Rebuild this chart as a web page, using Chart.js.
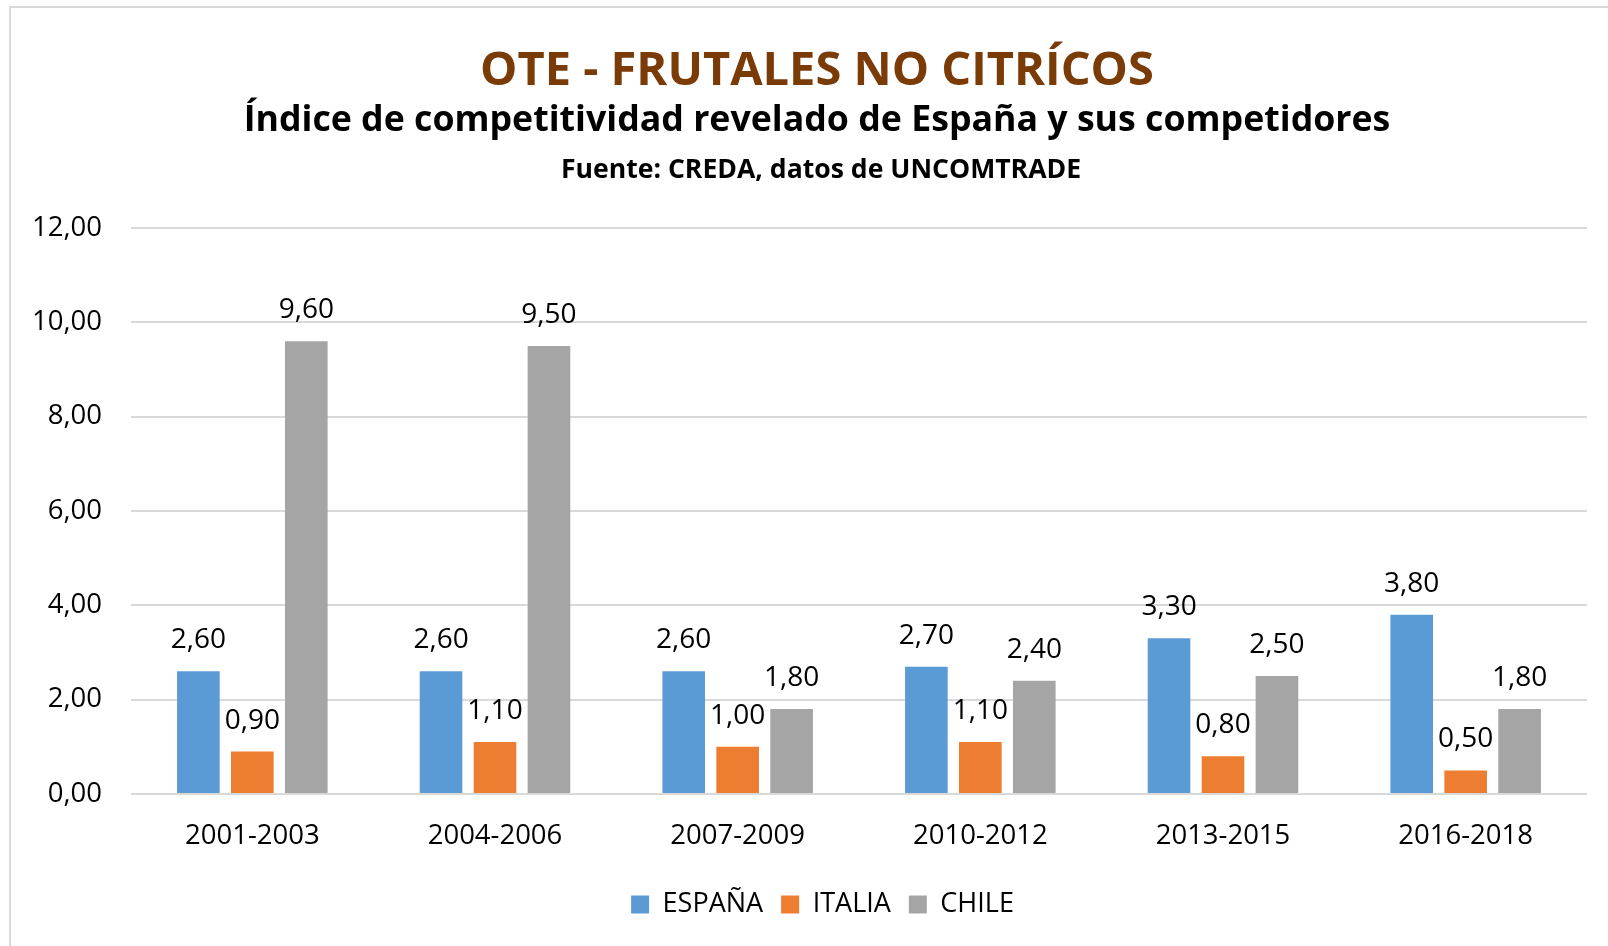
<!DOCTYPE html>
<html>
<head>
    <meta charset="utf-8">
    <title>OTE - Frutales no cítricos</title>
    <script src="https://cdn.jsdelivr.net/npm/chart.js"></script>
    <style>
        html, body { margin: 0; padding: 0; background: #fff; }
        #frame {
            position: absolute; left: 0; top: 0; width: 1608px; height: 946px;
        }
        #border {
            position: absolute; left: 9px; top: 6px; right: 0; bottom: 0;
            border-left: 2px solid #d9d9d9; border-top: 2px solid #d9d9d9;
        }
        canvas { position: absolute; left: 0; top: 0; }
    </style>
</head>
<body>
    <div id="frame">
        <div id="border"></div>
        <canvas id="barChart" width="1608" height="946"></canvas>
    </div>

    <script>
        const periods = ['2001-2003', '2004-2006', '2007-2009', '2010-2012', '2013-2015', '2016-2018'];
        const espana = [2.6, 2.6, 2.6, 2.7, 3.3, 3.8];
        const italia = [0.9, 1.1, 1.0, 1.1, 0.8, 0.5];
        const chile = [9.6, 9.5, 1.8, 2.4, 2.5, 1.8];

        const titleText = 'OTE - FRUTALES NO CITRÍCOS';
        const subtitleText = 'Índice de competitividad revelado de España y sus competidores';
        const sourceText = 'Fuente: CREDA, datos de UNCOMTRADE';

        const FONT = '"Open Sans", Lato, sans-serif';

        // comma as decimal separator, two decimals
        const fmt = v => v.toFixed(2).replace('.', ',');

        // headings above the plot
        const headings = {
            id: 'headings',
            afterDraw(chart) {
                const ctx = chart.ctx;
                ctx.save();
                ctx.textAlign = 'center';
                ctx.textBaseline = 'alphabetic';
                ctx.fillStyle = '#7a3b07';
                ctx.font = 'bold 47px ' + FONT;
                ctx.fillText(titleText, 817, 85);
                ctx.fillStyle = '#000';
                ctx.font = 'bold 35.7px ' + FONT;
                ctx.fillText(subtitleText, 817, 131);
                ctx.font = 'bold 26.6px ' + FONT;
                ctx.fillText(sourceText, 821, 178);
                ctx.restore();
            }
        };

        // value labels over each bar
        const valueLabels = {
            id: 'valueLabels',
            afterDatasetsDraw(chart) {
                const ctx = chart.ctx;
                ctx.save();
                ctx.font = '28px ' + FONT;
                ctx.fillStyle = '#000';
                ctx.textAlign = 'center';
                ctx.textBaseline = 'alphabetic';
                chart.data.datasets.forEach((ds, i) => {
                    chart.getDatasetMeta(i).data.forEach((bar, j) => {
                        ctx.fillText(fmt(ds.data[j]), bar.x, bar.y - 23);
                    });
                });
                ctx.restore();
            }
        };

        // the legend sits a little right of the plot centre in the original
        const legendShift = {
            id: 'legendShift',
            afterLayout(chart) {
                chart.legend.left += 24;
                chart.legend.right += 24;
            }
        };

        const ctx = document.getElementById('barChart').getContext('2d');
        new Chart(ctx, {
            type: 'bar',
            data: {
                labels: periods,
                datasets: [
                    { label: 'ESPAÑA', data: espana, backgroundColor: '#5b9bd5' },
                    { label: 'ITALIA', data: italia, backgroundColor: '#ed7d31' },
                    { label: 'CHILE', data: chile, backgroundColor: '#a5a5a5' }
                ]
            },
            options: {
                responsive: false,
                animation: false,
                categoryPercentage: 0.667,
                barPercentage: 0.79,
                layout: {
                    padding: { top: 228, left: 10, right: 21, bottom: 18 }
                },
                scales: {
                    x: {
                        grid: { display: false },
                        border: { display: false },
                        ticks: {
                            color: '#000',
                            font: { family: FONT, size: 27.5 },
                            padding: 18
                        },
                        afterFit: s => { s.height = 79; }
                    },
                    y: {
                        min: 0,
                        max: 12,
                        grid: { color: '#d9d9d9', lineWidth: 2, drawTicks: false },
                        border: { display: false },
                        ticks: {
                            stepSize: 2,
                            color: '#000',
                            font: { family: FONT, size: 27.5 },
                            padding: 29,
                            callback: v => fmt(v)
                        },
                        afterFit: s => { s.width = 121; }
                    }
                },
                plugins: {
                    legend: {
                        position: 'bottom',
                        labels: {
                            color: '#000',
                            font: { family: FONT, size: 27 },
                            boxWidth: 18,
                            boxHeight: 18,
                            padding: 18
                        }
                    },
                    tooltip: { enabled: false }
                }
            },
            plugins: [headings, valueLabels, legendShift]
        });
    </script>
</body>
</html>
